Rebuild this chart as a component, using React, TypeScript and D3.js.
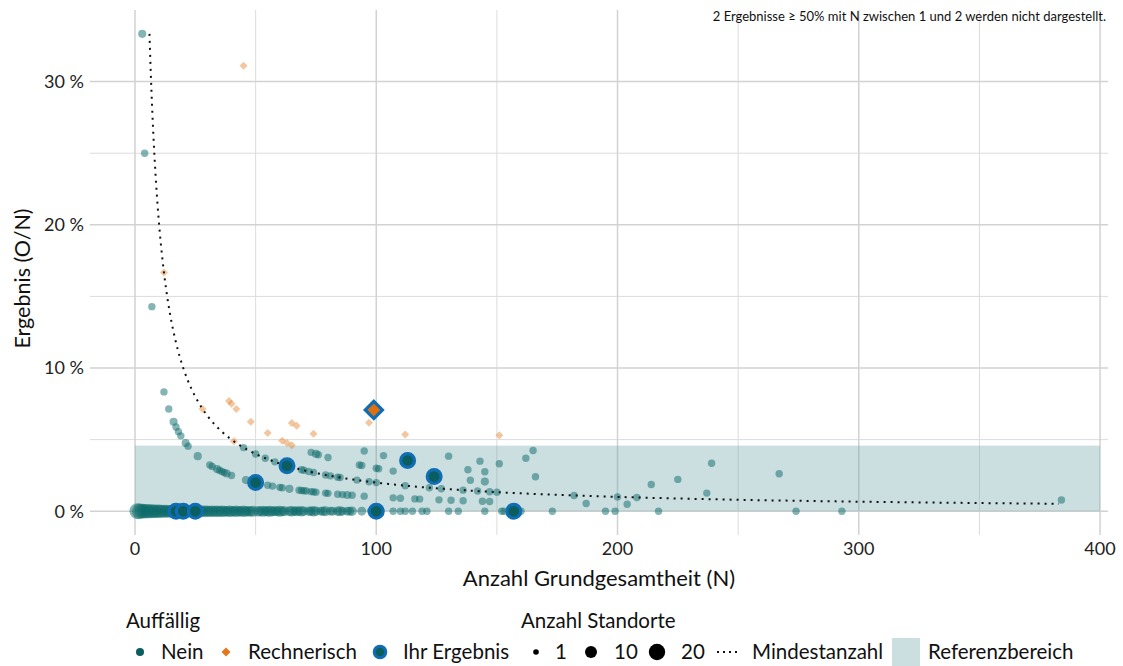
import React from "react";
import * as d3 from "d3";

const W = 1123;
const H = 666;
const FONT = "Lato, 'Noto Sans', sans-serif";

// ---- axes / ticks ----
const xMajorTicks = [0, 100, 200, 300, 400];
const xMinorTicks = [50, 150, 250, 350];
const yMajorTicks = [0, 10, 20, 30];
const yMinorTicks = [5, 15, 25];
const yTickLabels = ["0 %", "10 %", "20 %", "30 %"];

// ---- reference range & minimum count curve ----
const refUpper = 4.58; // % upper bound of reference range
const refN = [0, 400];
const minEvents = 2; // Mindestanzahl: O = 2
const minCurveN = [6, 383];

// ---- O = 0 results (N, number of sites) ----
const zeroN = [1, 2, 3, 4, 5, 6, 7, 8, 9, 10, 11, 12, 13, 14, 15, 16, 18, 19, 21, 22, 23, 24, 26, 27, 28, 29, 30, 31, 32, 33, 34, 35, 36, 37, 38, 39, 40, 41, 42, 43, 44, 45, 46, 47, 48, 49, 51, 52, 53, 54, 55, 56, 57, 58, 59, 60, 61, 62, 64, 65, 66, 67, 68, 69, 70, 72, 73, 74, 75, 77, 78, 79, 81, 82, 84, 85, 86, 88, 89, 90, 94, 98, 107, 110, 112, 115, 119, 121, 130, 134, 145, 152, 153, 160, 173, 195, 199, 217, 274, 293];
const zeroCount = [18, 17, 15, 14, 14, 13, 13, 12, 12, 12, 11, 11, 11, 10, 10, 10, 10, 9, 9, 9, 9, 9, 8, 8, 8, 8, 8, 7, 8, 7, 8, 7, 8, 7, 6, 8, 7, 6, 8, 6, 6, 8, 6, 6, 6, 7, 6, 5, 7, 5, 6, 7, 5, 5, 5, 7, 5, 5, 5, 6, 4, 5, 4, 6, 4, 4, 4, 6, 4, 3, 4, 5, 3, 3, 4, 5, 3, 3, 3, 4, 3, 3, 1, 1, 1, 1, 1, 1, 1, 1, 1, 1, 1, 1, 1, 1, 1, 1, 1, 1];

// ---- other unremarkable results: [N, O, sites] ----
const neinPoints: [number, number, number][] = [
  [3, 1, 2], [4, 1, 1], [7, 1, 1], [12, 1, 1], [14, 1, 1], [16, 1, 2], [17, 1, 1], [18, 1, 1], [19, 1, 1], [21, 1, 2], [22, 1, 1],
  [26, 1, 2], [31, 1, 1], [32, 1, 1], [34, 1, 2], [35, 1, 1], [36, 1, 1], [37, 1, 1], [38, 1, 2], [40, 1, 1], [46, 1, 2],
  [55, 1, 1], [57, 1, 1], [60, 1, 1], [61, 1, 1], [64, 1, 2], [68, 1, 1], [69, 1, 1], [70, 1, 1], [71, 1, 1], [73, 1, 1],
  [74, 1, 1], [75, 1, 1], [79, 1, 1], [80, 1, 1], [84, 1, 1], [86, 1, 1], [88, 1, 2], [90, 1, 1], [95, 1, 1], [107, 1, 1],
  [110, 1, 1], [116, 1, 1], [118, 1, 1], [126, 1, 1], [131, 1, 1], [136, 1, 1], [144, 1, 1], [147, 1, 1], [187, 1, 1], [204, 1, 1],
  [45, 2, 1], [50, 2, 1], [54, 2, 1], [58, 2, 1], [69, 2, 1], [70, 2, 1], [72, 2, 1], [74, 2, 1], [79, 2, 1], [81, 2, 1],
  [84, 2, 1], [85, 2, 1], [92, 2, 1], [97, 2, 1], [100, 2, 1], [112, 2, 1], [122, 2, 1], [127, 2, 1], [136, 2, 1], [142, 2, 1],
  [147, 2, 1], [150, 2, 1], [182, 2, 1], [200, 2, 1], [208, 2, 1],
  [73, 3, 1], [75, 3, 2], [76, 3, 1], [80, 3, 1], [93, 3, 1], [94, 3, 1], [100, 3, 1], [101, 3, 1], [107, 3, 1], [139, 3, 1],
  [145, 3, 2], [237, 3, 1], [384, 3, 1],
  [95, 4, 1], [103, 4, 1], [138, 4, 1], [145, 4, 1], [166, 4, 1], [214, 4, 1],
  [130, 5, 1], [143, 5, 1], [151, 5, 1], [225, 5, 1],
  [162, 6, 1], [165, 7, 1], [267, 7, 1], [239, 8, 1],
];

// ---- computationally conspicuous results: [N, O] ----
const rechnerischPoints: [number, number][] = [
  [12, 2], [28, 2], [39, 3], [40, 3], [41, 2], [42, 3], [45, 14], [48, 3], [55, 3], [61, 3],
  [63, 3], [65, 3], [65, 4], [67, 4], [74, 4], [97, 6], [112, 6], [151, 8],
];

// ---- own results: [N, O] ----
const ihrCircles: [number, number][] = [
  [17, 0], [20, 0], [25, 0], [50, 1], [63, 2], [100, 0], [113, 4], [124, 3], [157, 0],
];
const ihrDiamonds: [number, number][] = [[99, 7]];

// ---- legend ----
const legendTitle1 = "Auffällig";
const legendTitle2 = "Anzahl Standorte";
const sizeBreaks = [1, 10, 20];
const note = "2 Ergebnisse ≥ 50% mit N zwischen 1 und 2 werden nicht dargestellt.";

// ---- colours ----
const TEAL = "#0b6a6a";
const TEAL_DARK = "#0b5e5f";
const BLUE = "#0f6db3";
const ORANGE = "#e3781a";
const ORANGE_DARK = "#e0700f";
const BAND = "#6ba1a6";

const panel = { left: 90, right: 1108, top: 10, bottom: 535 };

const x = d3.scaleLinear().domain([-18.65, 403.3]).range([panel.left, panel.right]);
const y = d3.scaleLinear().domain([-1.66, 35]).range([panel.bottom, panel.top]);
const area = d3.scaleLinear().domain([1, 20]).range([3.7 * 3.7, 8.3 * 8.3]);
const rOf = (c: number) => Math.sqrt(area(c));
const pct = (n: number, o: number) => (o / n) * 100;

const diamond = (cx: number, cy: number, h: number) =>
  `M${cx},${cy - h}L${cx + h},${cy}L${cx},${cy + h}L${cx - h},${cy}Z`;

const LEG_FS = 20.5;

export default function App() {
  const curveData = d3.range(minCurveN[0], minCurveN[1] + 0.5, 0.5).map((n) => [n, pct(n, minEvents)] as [number, number]);
  const line = d3
    .line<[number, number]>()
    .x((d) => x(d[0]))
    .y((d) => y(d[1]));

  const zeroPoints = zeroN.map((n, i) => [n, 0, zeroCount[i]] as [number, number, number]);
  const allNein = [...zeroPoints, ...neinPoints];

  const legY = 652;
  const legTitleY = 621;

  return (
    <svg width={W} height={H} style={{ display: "block", position: "absolute", left: 0, top: 0 }} fontFamily={FONT}>
      <rect width={W} height={H} fill="#fff" />
      {/* grid */}
      {yMinorTicks.map((t) => (
        <line key={"ym" + t} x1={panel.left} x2={panel.right} y1={y(t)} y2={y(t)} stroke="#dcdcdc" strokeWidth={1} />
      ))}
      {xMinorTicks.map((t) => (
        <line key={"xm" + t} x1={x(t)} x2={x(t)} y1={panel.top} y2={panel.bottom} stroke="#dcdcdc" strokeWidth={1} />
      ))}
      {yMajorTicks.map((t) => (
        <line key={"yM" + t} x1={panel.left} x2={panel.right} y1={y(t)} y2={y(t)} stroke="#d2d2d2" strokeWidth={1.5} />
      ))}
      {xMajorTicks.map((t) => (
        <line key={"xM" + t} x1={x(t)} x2={x(t)} y1={panel.top} y2={panel.bottom} stroke="#d2d2d2" strokeWidth={1.5} />
      ))}
      {/* reference band */}
      <rect
        x={x(refN[0])}
        width={x(refN[1]) - x(refN[0])}
        y={y(refUpper)}
        height={y(0) - y(refUpper)}
        fill={BAND}
        fillOpacity={0.35}
      />
      {/* unremarkable results */}
      {allNein.map(([n, o, c], i) => (
        <circle key={"n" + i} cx={x(n)} cy={y(pct(n, o))} r={rOf(c)} fill={TEAL} fillOpacity={0.5} />
      ))}
      {/* rechnerisch */}
      {rechnerischPoints.map(([n, o], i) => (
        <path key={"r" + i} d={diamond(x(n), y(pct(n, o)), 4)} fill={ORANGE} fillOpacity={0.42} />
      ))}
      {/* minimum count curve */}
      <path d={line(curveData) || ""} fill="none" stroke="#111" strokeWidth={2} strokeDasharray="2 5" />
      {/* own results */}
      {ihrCircles.map(([n, o], i) => (
        <circle key={"i" + i} cx={x(n)} cy={y(pct(n, o))} r={6.9} fill={TEAL_DARK} stroke={BLUE} strokeWidth={3.2} />
      ))}
      {ihrDiamonds.map(([n, o], i) => (
        <path key={"d" + i} d={diamond(x(n), y(pct(n, o)), 8.6)} fill={ORANGE_DARK} stroke={BLUE} strokeWidth={3.2} />
      ))}
      {/* note */}
      <text x={1106} y={21} textAnchor="end" fontSize={13} fill="#111">
        {note}
      </text>
      {/* y tick labels */}
      {yMajorTicks.map((t, i) => (
        <text key={"yl" + t} x={84} y={y(t)} dy="0.35em" textAnchor="end" fontSize={18} fill="#222">
          {yTickLabels[i]}
        </text>
      ))}
      {/* x tick labels */}
      {xMajorTicks.map((t) => (
        <text key={"xl" + t} x={x(t)} y={555} textAnchor="middle" fontSize={18} fill="#222">
          {t}
        </text>
      ))}
      {/* axis titles */}
      <text x={(panel.left + panel.right) / 2} y={585.5} textAnchor="middle" fontSize={22} fill="#111">
        Anzahl Grundgesamtheit (N)
      </text>
      <text transform={`translate(30,${(panel.top + panel.bottom) / 2 + 6}) rotate(-90)`} textAnchor="middle" fontSize={21.5} fill="#111">
        Ergebnis (O/N)
      </text>
      {/* legend */}
      <text x={126} y={legTitleY} dy="0.35em" fontSize={LEG_FS} fill="#111">{legendTitle1}</text>
      <text x={521} y={legTitleY} dy="0.35em" fontSize={LEG_FS} fill="#111">{legendTitle2}</text>

      <circle cx={140} cy={legY} r={4} fill={TEAL_DARK} />
      <text x={161} y={legY} dy="0.35em" fontSize={LEG_FS} fill="#111">Nein</text>
      <path d={diamond(226, legY, 4.5)} fill={ORANGE} />
      <text x={248} y={legY} dy="0.35em" fontSize={LEG_FS} fill="#111">Rechnerisch</text>
      <circle cx={380} cy={legY} r={5.8} fill={TEAL_DARK} stroke={BLUE} strokeWidth={3} />
      <text x={403} y={legY} dy="0.35em" fontSize={LEG_FS} fill="#111">Ihr Ergebnis</text>

      {sizeBreaks.map((s, i) => {
        const cxs = [536, 591, 657];
        const txs = [555, 614, 681];
        const rs = [2.8, 6, 8.2];
        return (
          <g key={"s" + s}>
            <circle cx={cxs[i]} cy={legY} r={rs[i]} fill="#000" />
            <text x={txs[i]} y={legY} dy="0.35em" fontSize={LEG_FS} fill="#111">{s}</text>
          </g>
        );
      })}
      <line x1={717} x2={740} y1={legY} y2={legY} stroke="#111" strokeWidth={2} strokeDasharray="2 4" />
      <text x={752} y={legY} dy="0.35em" fontSize={LEG_FS} fill="#111">Mindestanzahl</text>
      <rect x={892} y={638} width={28} height={28} fill={BAND} fillOpacity={0.35} />
      <text x={928} y={legY} dy="0.35em" fontSize={LEG_FS} fill="#111">Referenzbereich</text>
    </svg>
  );
}
